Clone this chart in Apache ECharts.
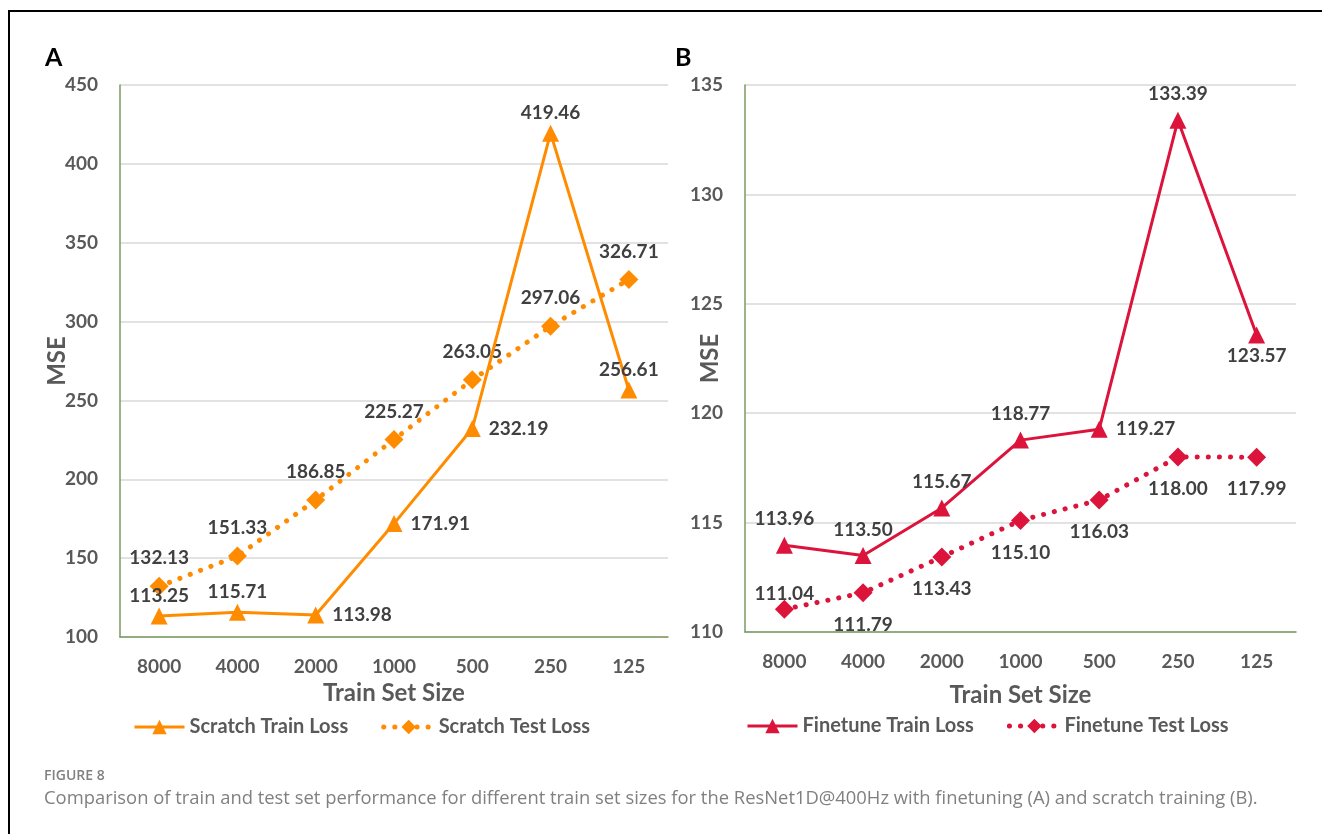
<!DOCTYPE html>
<html>
<head>
<meta charset="utf-8">
<script src="https://cdn.jsdelivr.net/npm/echarts@6/dist/echarts.min.js"></script>
<style>
  html, body { margin: 0; padding: 0; background: #fff; }
  #main { width: 1322px; height: 834px; }
</style>
</head>
<body>
<div id="main"></div>
<script>
// data
const sizes = ['8000', '4000', '2000', '1000', '500', '250', '125'];
const scratchTrain = [113.25, 115.71, 113.98, 171.91, 232.19, 419.46, 256.61];
const scratchTest = [132.13, 151.33, 186.85, 225.27, 263.05, 297.06, 326.71];
const finetuneTrain = [113.96, 113.50, 115.67, 118.77, 119.27, 133.39, 123.57];
const finetuneTest = [111.04, 111.79, 113.43, 115.10, 116.03, 118.00, 117.99];

const ORANGE = '#ff8c00';
const RED = '#dc143c';
const FONT = 'Lato';

// label placement per point (style only)
const posScratchTrain = ['top', 'top', 'right', 'right', 'right', 'top', 'top'];
const posScratchTest = ['top', 'top', 'top', 'top', 'top', 'top', 'top'];
const posFinetuneTrain = ['top', 'top', 'top', 'top', 'right', 'top', 'bottom'];
const posFinetuneTest = ['top', 'bottom', 'bottom', 'bottom', 'bottom', 'bottom', 'bottom'];

function withLabels(values, positions, dist) {
  return values.map((v, i) => ({
    value: v,
    label: { position: positions[i], distance: dist[positions[i]] },
  }));
}

const labelStyle = {
  show: true,
  color: '#404040',
  fontFamily: FONT,
  fontWeight: 'bold',
  fontSize: 19,
  formatter: (p) => p.value.toFixed(2),
};

const axisText = { color: '#595959', fontFamily: FONT, fontWeight: 'bold', fontSize: 19 };
const nameText = { color: '#595959', fontFamily: FONT, fontWeight: 'bold', fontSize: 24 };

function xAx(gridIndex, gap) {
  return {
    type: 'category',
    gridIndex: gridIndex,
    data: sizes,
    name: 'Train Set Size',
    nameLocation: 'middle',
    nameGap: gap,
    nameTextStyle: nameText,
    axisTick: { show: false },
    axisLine: { show: true, lineStyle: { color: '#7a9a5e', width: 1.5 } },
    axisLabel: Object.assign({ margin: 20 }, axisText),
  };
}

function yAx(gridIndex, min, max, interval, gap) {
  return {
    type: 'value',
    gridIndex: gridIndex,
    min: min,
    max: max,
    interval: interval,
    name: 'MSE',
    nameLocation: 'middle',
    nameRotate: 90,
    nameGap: gap,
    nameMoveOverlap: false,
    nameTextStyle: nameText,
    axisTick: { show: false },
    axisLine: { show: true, lineStyle: { color: '#7a9a5e', width: 1.5 } },
    axisLabel: Object.assign({ margin: 22 }, axisText),
    splitLine: { show: true, lineStyle: { color: '#d9d9d9', width: 1.5 } },
  };
}

const legendText = { color: '#595959', fontFamily: FONT, fontWeight: 'bold', fontSize: 20 };

const chart = echarts.init(document.getElementById('main'));
const option = {
  animation: false,
  grid: [
    { left: 120, top: 85, width: 548, height: 552 },
    { left: 745, top: 85, width: 551, height: 547 },
  ],
  xAxis: [xAx(0, 44), xAx(1, 51)],
  yAxis: [yAx(0, 100, 450, 50, 51), yAx(1, 110, 135, 5, 23)],
  legend: [
    {
      left: 133, top: 717, padding: 0, itemWidth: 50, itemHeight: 18, itemGap: 33, itemTextGap: 4,
      textStyle: legendText,
      data: [
        { name: 'Scratch Train Loss', lineStyle: { width: 3 } },
        { name: 'Scratch Test Loss', lineStyle: { width: 5 } },
      ],
    },
    {
      left: 746, top: 716, padding: 0, itemWidth: 50, itemHeight: 18, itemGap: 33, itemTextGap: 4,
      textStyle: legendText,
      data: [
        { name: 'Finetune Train Loss', lineStyle: { width: 3 } },
        { name: 'Finetune Test Loss', lineStyle: { width: 5 } },
      ],
    },
  ],
  title: [
    { text: 'A', left: 45, top: 45, padding: 0, textStyle: { color: '#000', fontFamily: FONT, fontWeight: 'bold', fontSize: 25 } },
    { text: 'B', left: 675, top: 45, padding: 0, textStyle: { color: '#000', fontFamily: FONT, fontWeight: 'bold', fontSize: 25 } },
    { text: 'FIGURE 8', left: 44, top: 769, padding: 0, textStyle: { color: '#808080', fontFamily: 'Open Sans', fontWeight: 600, fontSize: 14 } },
    {
      text: 'Comparison of train and test set performance for different train set sizes for the ResNet1D@400Hz with finetuning (A) and scratch training (B).',
      left: 44, top: 790, padding: 0,
      textStyle: { color: '#808080', fontFamily: 'Open Sans', fontWeight: 'normal', fontSize: 18.4 },
    },
  ],
  series: [
    {
      name: 'Scratch Train Loss', type: 'line', xAxisIndex: 0, yAxisIndex: 0,
      data: withLabels(scratchTrain, posScratchTrain, { top: 2, right: 8, bottom: 6 }),
      symbol: 'triangle', symbolSize: 17,
      lineStyle: { color: ORANGE, width: 3 }, itemStyle: { color: ORANGE },
      label: labelStyle, z: 3,
    },
    {
      name: 'Scratch Test Loss', type: 'line', xAxisIndex: 0, yAxisIndex: 0,
      data: withLabels(scratchTest, posScratchTest, { top: 9, right: 8, bottom: 14 }),
      symbol: 'diamond', symbolSize: 19,
      lineStyle: { color: ORANGE, width: 5, type: [0.1, 11], cap: 'round' }, itemStyle: { color: ORANGE },
      label: labelStyle, z: 2,
    },
    {
      name: 'Finetune Train Loss', type: 'line', xAxisIndex: 1, yAxisIndex: 1,
      data: withLabels(finetuneTrain, posFinetuneTrain, { top: 8, right: 8, bottom: 3 }),
      symbol: 'triangle', symbolSize: 17,
      lineStyle: { color: RED, width: 3 }, itemStyle: { color: RED },
      label: labelStyle, z: 3,
    },
    {
      name: 'Finetune Test Loss', type: 'line', xAxisIndex: 1, yAxisIndex: 1,
      data: withLabels(finetuneTest, posFinetuneTest, { top: -4, right: 8, bottom: 13 }),
      symbol: 'diamond', symbolSize: 19,
      lineStyle: { color: RED, width: 5, type: [0.1, 11], cap: 'round' }, itemStyle: { color: RED },
      label: labelStyle, z: 2,
    },
  ],
  graphic: [
    { type: 'line', shape: { x1: 8, y1: 11, x2: 1322, y2: 11 }, style: { stroke: '#000', lineWidth: 2 } },
    { type: 'line', shape: { x1: 9, y1: 11, x2: 9, y2: 834 }, style: { stroke: '#000', lineWidth: 2 } },
  ],
};
chart.setOption(option);
</script>
</body>
</html>
